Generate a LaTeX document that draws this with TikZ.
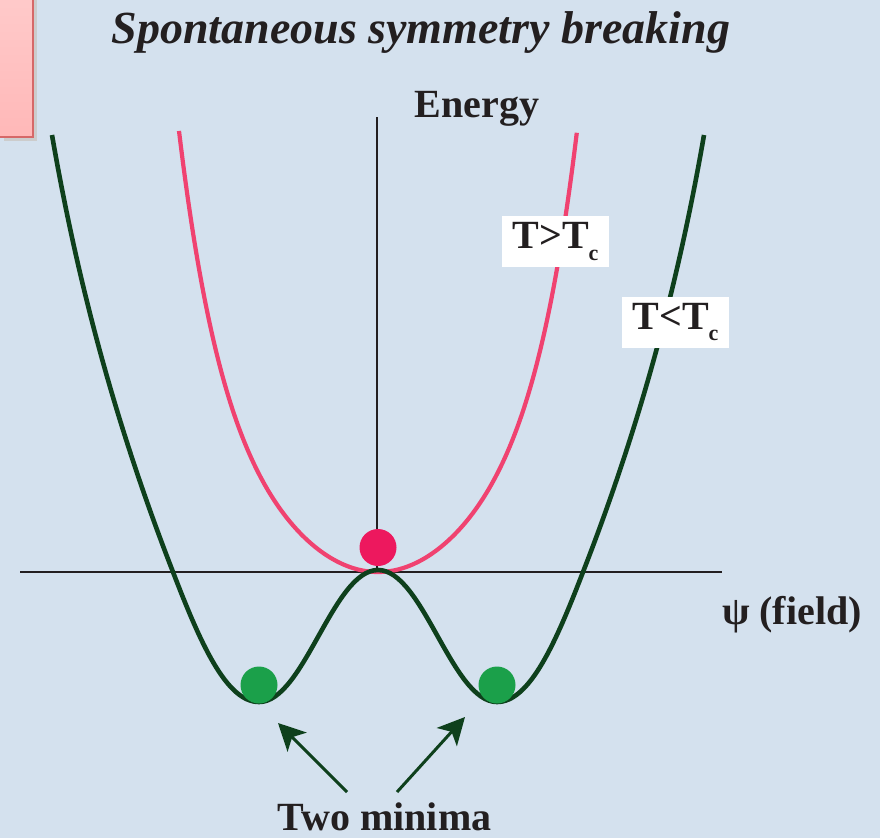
\documentclass[tikz,border=0pt]{standalone}
\usepackage{fontspec}
\setmainfont{Liberation Serif}
\usetikzlibrary{arrows.meta}

\definecolor{bgblue}{RGB}{212,225,238}
\definecolor{wellgreen}{RGB}{14,64,28}
\definecolor{hotpink}{RGB}{240,66,112}
\definecolor{ballpink}{RGB}{237,24,94}
\definecolor{ballgreen}{RGB}{27,160,74}
\definecolor{axisgray}{RGB}{35,31,32}
\definecolor{notepink}{RGB}{255,184,184}
\definecolor{noteedge}{RGB}{214,104,104}

\tikzset{
	axis/.style = {axisgray, line width = 1.6},
	coldcurve/.style = {wellgreen, line width = 4.6},
	hotcurve/.style = {hotpink, line width = 4.2},
	ball/.style = {circle, inner sep = 0, minimum size = 37},
	lbl/.style = {font = \fontsize{40}{44}\bfseries\selectfont, text = axisgray, inner sep = 0},
	tbox/.style = {lbl, fill = white, minimum width = 107, minimum height = 51},
	pointer/.style = {wellgreen, line width = 3, -{Stealth[length = 27, width = 27, inset = 7]}}
}

\newcommand{\sublow}[1]{\raisebox{-12pt}{\fontsize{22}{22}\bfseries\selectfont #1}}

\begin{document}
\begin{tikzpicture}[x = 1pt, y = -1pt]
		\useasboundingbox (0,0) rectangle (880,838);
		\fill [bgblue] (0,0) rectangle (880,838);
		
		%corner note
		\fill [black!20] (4,-2) rectangle (37,141);
		\shade [top color = notepink!75!white, bottom color = notepink, draw = noteedge, line width = 2] (-2,-2) rectangle (33,137);
		
		%axes
		\draw [axis] (20,572) -- (722,572);
		\draw [axis] (377,117) -- (377,572);
		
		%T > Tc
		\draw [hotcurve, domain = -1.99:1.99, samples = 200, smooth] plot ({378 + 100*\x}, {572 - (62.96*\x*\x + 3.087*(\x*\x)^3)});
		
		%T < Tc
		\draw [coldcurve] (52,135) .. controls (78,285) and (116.5,427) .. (173,572)
			.. controls (200,642) and (226,702) .. (259,702)
			.. controls (304,702) and (333,570) .. (378,570)
			.. controls (423,570) and (452,702) .. (497,702)
			.. controls (530,702) and (556,642) .. (583,572)
			.. controls (639.5,427) and (678,285) .. (704,135);
		
		%balls
		\node [ball, fill = ballpink] (top) at (378,547.5) {};
		\node [ball, fill = ballgreen] (leftmin) at (259,685) {};
		\node [ball, fill = ballgreen] (rightmin) at (497,685) {};
		
		%labels
		\node [anchor = base, text = axisgray, inner sep = 0, font = \fontsize{46}{50}\bfseries\itshape\selectfont] (title) at (421,43) {Spontaneous symmetry breaking};
		\node [lbl, anchor = base] (energy) at (477,117) {Energy};
		\node [tbox] (hot) at (555.5,241.5) {T>T\sublow{c}};
		\node [tbox] (cold) at (675.5,322) {T<T\sublow{c}};
		\node [lbl, anchor = base] (field) at (792,624) {ψ (field)};
		\node [lbl, anchor = base] (minima) at (384.5,830) {Two minima};
		
		%arrows
		\coordinate (tailL) at (347,792);
		\coordinate (tailR) at (397,792);
		\coordinate (tipL) at (278,723);
		\coordinate (tipR) at (465,717);
		\draw [pointer] (tailL) -- (tipL);
		\draw [pointer] (tailR) -- (tipR);
	\end{tikzpicture}
\end{document}
